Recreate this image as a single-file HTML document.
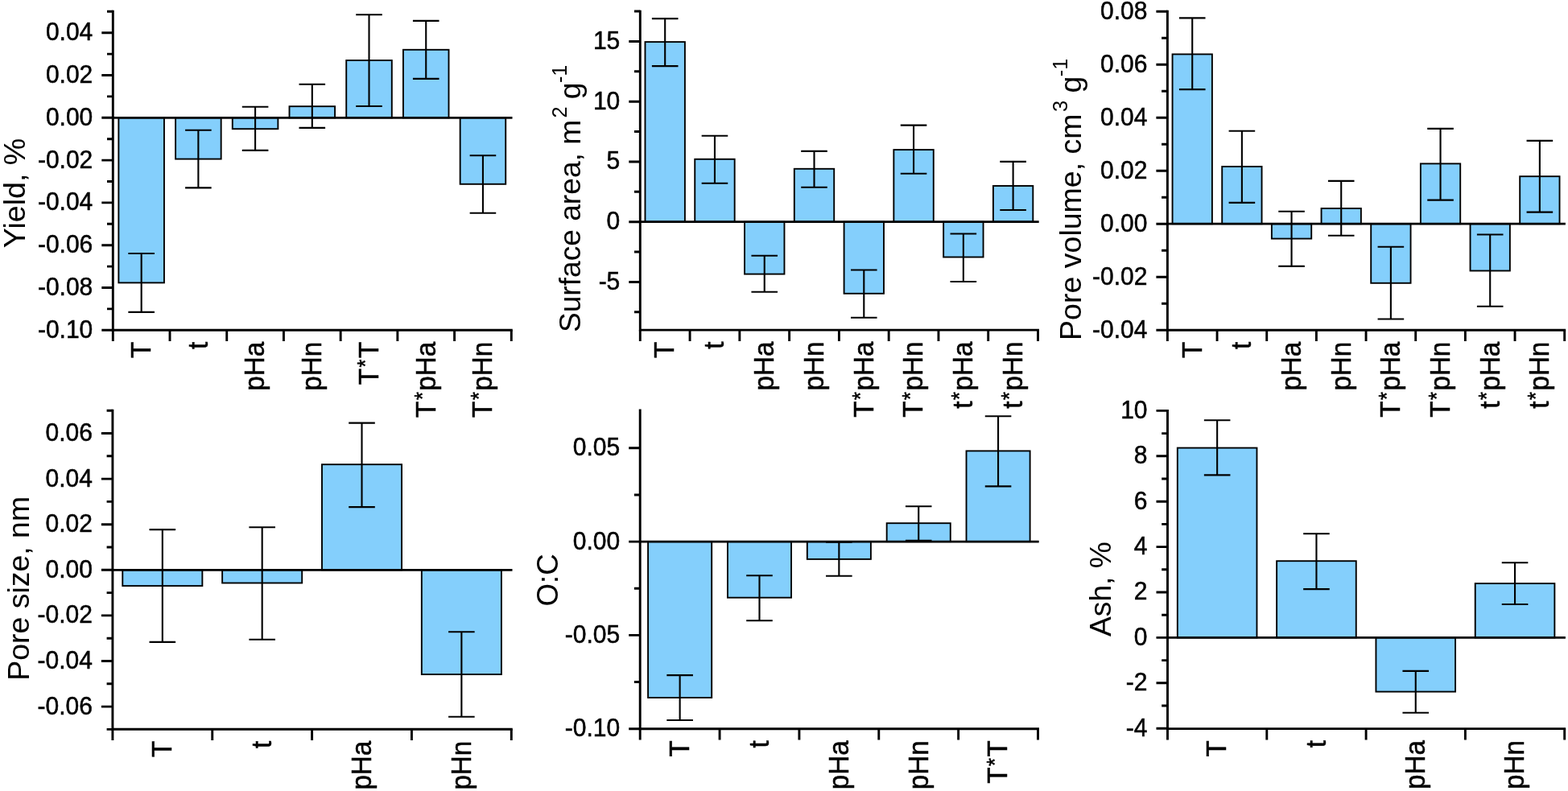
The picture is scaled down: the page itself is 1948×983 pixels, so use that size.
<!DOCTYPE html>
<html><head><meta charset="utf-8"><title>Bar charts</title>
<style>
html,body{margin:0;padding:0;background:#fff;overflow:hidden;}
svg{display:block;}
text{font-family:'Liberation Sans', sans-serif;fill:#000;stroke:#000;stroke-width:0.5px;}
.ti{stroke-width:0.0px;}
</style></head>
<body>
<svg width="1948" height="983" viewBox="0 0 1948 983">
<rect width="1948" height="983" fill="#fff"/>
<g>
<rect x="147.37" y="146.3" width="56.57" height="205.1" fill="#84CFFC" stroke="#000" stroke-width="1.9"/>
<rect x="218.09" y="146.3" width="56.57" height="51.3" fill="#84CFFC" stroke="#000" stroke-width="1.9"/>
<rect x="288.8" y="146.3" width="56.57" height="13.9" fill="#84CFFC" stroke="#000" stroke-width="1.9"/>
<rect x="359.51" y="132.2" width="56.57" height="14.1" fill="#84CFFC" stroke="#000" stroke-width="1.9"/>
<rect x="430.23" y="75" width="56.57" height="71.3" fill="#84CFFC" stroke="#000" stroke-width="1.9"/>
<rect x="500.94" y="61.8" width="56.57" height="84.5" fill="#84CFFC" stroke="#000" stroke-width="1.9"/>
<rect x="571.66" y="146.3" width="56.57" height="82.5" fill="#84CFFC" stroke="#000" stroke-width="1.9"/>
<path d="M175.66 315V387.85M159.36 315H191.96M159.36 387.85H191.96" stroke="#000" stroke-width="2.1" fill="none"/>
<path d="M246.37 161.7V233.4M230.07 161.7H262.67M230.07 233.4H262.67" stroke="#000" stroke-width="2.1" fill="none"/>
<path d="M317.09 132.7V186.9M300.79 132.7H333.39M300.79 186.9H333.39" stroke="#000" stroke-width="2.1" fill="none"/>
<path d="M387.8 104.8V158.9M371.5 104.8H404.1M371.5 158.9H404.1" stroke="#000" stroke-width="2.1" fill="none"/>
<path d="M458.51 18.3V132M442.21 18.3H474.81M442.21 132H474.81" stroke="#000" stroke-width="2.1" fill="none"/>
<path d="M529.23 25.9V97.9M512.93 25.9H545.53M512.93 97.9H545.53" stroke="#000" stroke-width="2.1" fill="none"/>
<path d="M599.94 193.2V264.8M583.64 193.2H616.24M583.64 264.8H616.24" stroke="#000" stroke-width="2.1" fill="none"/>
<line x1="140.3" y1="146.3" x2="636.5" y2="146.3" stroke="#000" stroke-width="2.8"/>
<path d="M140.3 14.3V410.3M140.3 410.3H635.3" stroke="#000" stroke-width="2.9" fill="none" stroke-linecap="square"/>
<path d="M126.3 40.7H140.3M126.3 93.5H140.3M126.3 146.3H140.3M126.3 199.1H140.3M126.3 251.9H140.3M126.3 304.7H140.3M126.3 357.5H140.3M126.3 410.3H140.3M133 14.3H140.3M133 67.1H140.3M133 119.9H140.3M133 172.7H140.3M133 225.5H140.3M133 278.3H140.3M133 331.1H140.3M133 383.9H140.3M140.3 410.3V424.1M211.01 410.3V424.1M281.73 410.3V424.1M352.44 410.3V424.1M423.16 410.3V424.1M493.87 410.3V424.1M564.59 410.3V424.1M635.3 410.3V424.1" stroke="#000" stroke-width="2.9" fill="none"/>
<text transform="translate(115.3 50.1) scale(1 1.05)" font-size="30" text-anchor="end" class="yt">0.04</text>
<text transform="translate(115.3 102.9) scale(1 1.05)" font-size="30" text-anchor="end" class="yt">0.02</text>
<text transform="translate(115.3 155.7) scale(1 1.05)" font-size="30" text-anchor="end" class="yt">0.00</text>
<text transform="translate(115.3 208.5) scale(1 1.05)" font-size="30" text-anchor="end" class="yt">-0.02</text>
<text transform="translate(115.3 261.3) scale(1 1.05)" font-size="30" text-anchor="end" class="yt">-0.04</text>
<text transform="translate(115.3 314.1) scale(1 1.05)" font-size="30" text-anchor="end" class="yt">-0.06</text>
<text transform="translate(115.3 366.9) scale(1 1.05)" font-size="30" text-anchor="end" class="yt">-0.08</text>
<text transform="translate(115.3 419.7) scale(1 1.05)" font-size="30" text-anchor="end" class="yt">-0.10</text>
<text transform="translate(186.96 424.8) rotate(-90) scale(1 1.07)" font-size="33.2" text-anchor="end" class="xt">T</text>
<text transform="translate(257.67 424.8) rotate(-90) scale(1 1.07)" font-size="33.2" text-anchor="end" class="xt">t</text>
<text transform="translate(328.39 424.8) rotate(-90) scale(1 1.07)" font-size="33.2" text-anchor="end" class="xt">pHa</text>
<text transform="translate(399.1 424.8) rotate(-90) scale(1 1.07)" font-size="33.2" text-anchor="end" class="xt">pHn</text>
<text transform="translate(469.81 424.8) rotate(-90) scale(1 1.07)" font-size="33.2" text-anchor="end" class="xt">T<tspan font-size="25.56" dx="1.49" dy="-6.4">*</tspan><tspan dx="1.49" dy="6.4">T</tspan></text>
<text transform="translate(540.53 424.8) rotate(-90) scale(1 1.07)" font-size="33.2" text-anchor="end" class="xt">T<tspan font-size="25.56" dx="1.49" dy="-6.4">*</tspan><tspan dx="1.49" dy="6.4">pHa</tspan></text>
<text transform="translate(611.24 424.8) rotate(-90) scale(1 1.07)" font-size="33.2" text-anchor="end" class="xt">T<tspan font-size="25.56" dx="1.49" dy="-6.4">*</tspan><tspan dx="1.49" dy="6.4">pHn</tspan></text>
<text transform="translate(30.9 308.3) rotate(-90) scale(1 1.0)" xml:space="preserve" class="ti"><tspan font-size="37.63">Yield, %</tspan></text>
</g>
<g>
<rect x="801.48" y="52.1" width="49.42" height="223.6" fill="#84CFFC" stroke="#000" stroke-width="1.9"/>
<rect x="863.25" y="197.8" width="49.42" height="77.9" fill="#84CFFC" stroke="#000" stroke-width="1.9"/>
<rect x="925.03" y="275.7" width="49.42" height="64.9" fill="#84CFFC" stroke="#000" stroke-width="1.9"/>
<rect x="986.8" y="209.8" width="49.42" height="65.9" fill="#84CFFC" stroke="#000" stroke-width="1.9"/>
<rect x="1048.58" y="275.7" width="49.42" height="89.1" fill="#84CFFC" stroke="#000" stroke-width="1.9"/>
<rect x="1110.35" y="186.1" width="49.42" height="89.6" fill="#84CFFC" stroke="#000" stroke-width="1.9"/>
<rect x="1172.13" y="275.7" width="49.42" height="43.8" fill="#84CFFC" stroke="#000" stroke-width="1.9"/>
<rect x="1233.9" y="231" width="49.42" height="44.7" fill="#84CFFC" stroke="#000" stroke-width="1.9"/>
<path d="M826.19 23.1V82.1M809.89 23.1H842.49M809.89 82.1H842.49" stroke="#000" stroke-width="2.1" fill="none"/>
<path d="M887.96 168.8V227.8M871.66 168.8H904.26M871.66 227.8H904.26" stroke="#000" stroke-width="2.1" fill="none"/>
<path d="M949.74 317.7V362.7M933.44 317.7H966.04M933.44 362.7H966.04" stroke="#000" stroke-width="2.1" fill="none"/>
<path d="M1011.51 187.9V232.8M995.21 187.9H1027.81M995.21 232.8H1027.81" stroke="#000" stroke-width="2.1" fill="none"/>
<path d="M1073.29 335.5V394.8M1056.99 335.5H1089.59M1056.99 394.8H1089.59" stroke="#000" stroke-width="2.1" fill="none"/>
<path d="M1135.06 155.6V215.8M1118.76 155.6H1151.36M1118.76 215.8H1151.36" stroke="#000" stroke-width="2.1" fill="none"/>
<path d="M1196.84 290.5V350M1180.54 290.5H1213.14M1180.54 350H1213.14" stroke="#000" stroke-width="2.1" fill="none"/>
<path d="M1258.61 200.9V261M1242.31 200.9H1274.91M1242.31 261H1274.91" stroke="#000" stroke-width="2.1" fill="none"/>
<line x1="795.3" y1="275.7" x2="1290.7" y2="275.7" stroke="#000" stroke-width="2.8"/>
<path d="M795.3 14.1V410.1M795.3 410.1H1289.5" stroke="#000" stroke-width="2.9" fill="none" stroke-linecap="square"/>
<path d="M781.3 51.45H795.3M781.3 126.2H795.3M781.3 200.95H795.3M781.3 275.7H795.3M781.3 350.45H795.3M788 14.07H795.3M788 88.82H795.3M788 163.57H795.3M788 238.32H795.3M788 313.07H795.3M788 387.82H795.3M795.3 410.1V423.9M857.07 410.1V423.9M918.85 410.1V423.9M980.62 410.1V423.9M1042.4 410.1V423.9M1104.17 410.1V423.9M1165.95 410.1V423.9M1227.72 410.1V423.9M1289.5 410.1V423.9" stroke="#000" stroke-width="2.9" fill="none"/>
<text transform="translate(770.3 60.85) scale(1 1.05)" font-size="30" text-anchor="end" class="yt">15</text>
<text transform="translate(770.3 135.6) scale(1 1.05)" font-size="30" text-anchor="end" class="yt">10</text>
<text transform="translate(770.3 210.35) scale(1 1.05)" font-size="30" text-anchor="end" class="yt">5</text>
<text transform="translate(770.3 285.1) scale(1 1.05)" font-size="30" text-anchor="end" class="yt">0</text>
<text transform="translate(770.3 359.85) scale(1 1.05)" font-size="30" text-anchor="end" class="yt">-5</text>
<text transform="translate(837.49 424.6) rotate(-90) scale(1 1.07)" font-size="33.2" text-anchor="end" class="xt">T</text>
<text transform="translate(899.26 424.6) rotate(-90) scale(1 1.07)" font-size="33.2" text-anchor="end" class="xt">t</text>
<text transform="translate(961.04 424.6) rotate(-90) scale(1 1.07)" font-size="33.2" text-anchor="end" class="xt">pHa</text>
<text transform="translate(1022.81 424.6) rotate(-90) scale(1 1.07)" font-size="33.2" text-anchor="end" class="xt">pHn</text>
<text transform="translate(1084.59 424.6) rotate(-90) scale(1 1.07)" font-size="33.2" text-anchor="end" class="xt">T<tspan font-size="25.56" dx="1.49" dy="-6.4">*</tspan><tspan dx="1.49" dy="6.4">pHa</tspan></text>
<text transform="translate(1146.36 424.6) rotate(-90) scale(1 1.07)" font-size="33.2" text-anchor="end" class="xt">T<tspan font-size="25.56" dx="1.49" dy="-6.4">*</tspan><tspan dx="1.49" dy="6.4">pHn</tspan></text>
<text transform="translate(1208.14 424.6) rotate(-90) scale(1 1.07)" font-size="33.2" text-anchor="end" class="xt">t<tspan font-size="25.56" dx="1.49" dy="-6.4">*</tspan><tspan dx="1.49" dy="6.4">pHa</tspan></text>
<text transform="translate(1269.91 424.6) rotate(-90) scale(1 1.07)" font-size="33.2" text-anchor="end" class="xt">t<tspan font-size="25.56" dx="1.49" dy="-6.4">*</tspan><tspan dx="1.49" dy="6.4">pHn</tspan></text>
<text transform="translate(720.8 413.1) rotate(-90) scale(1 1.0)" xml:space="preserve" class="ti"><tspan font-size="37.15">Surface area, m</tspan><tspan font-size="25.10" dx="2.4" dy="-16.4">2</tspan><tspan font-size="37.15" dx="-1.0" dy="16.4"> g</tspan><tspan font-size="25.10" dx="-0.6" dy="-16.4">-1</tspan></text>
</g>
<g>
<rect x="1456.57" y="67.4" width="49.33" height="210.8" fill="#84CFFC" stroke="#000" stroke-width="1.9"/>
<rect x="1518.23" y="207" width="49.33" height="71.2" fill="#84CFFC" stroke="#000" stroke-width="1.9"/>
<rect x="1579.89" y="278.2" width="49.33" height="18.4" fill="#84CFFC" stroke="#000" stroke-width="1.9"/>
<rect x="1641.55" y="259" width="49.33" height="19.2" fill="#84CFFC" stroke="#000" stroke-width="1.9"/>
<rect x="1703.22" y="278.2" width="49.33" height="73.6" fill="#84CFFC" stroke="#000" stroke-width="1.9"/>
<rect x="1764.88" y="203.4" width="49.33" height="74.8" fill="#84CFFC" stroke="#000" stroke-width="1.9"/>
<rect x="1826.54" y="278.2" width="49.33" height="58.3" fill="#84CFFC" stroke="#000" stroke-width="1.9"/>
<rect x="1888.2" y="219.2" width="49.33" height="59" fill="#84CFFC" stroke="#000" stroke-width="1.9"/>
<path d="M1481.23 22.4V111.1M1464.93 22.4H1497.53M1464.93 111.1H1497.53" stroke="#000" stroke-width="2.1" fill="none"/>
<path d="M1542.89 162.7V251.9M1526.59 162.7H1559.19M1526.59 251.9H1559.19" stroke="#000" stroke-width="2.1" fill="none"/>
<path d="M1604.56 262.8V330.9M1588.26 262.8H1620.86M1588.26 330.9H1620.86" stroke="#000" stroke-width="2.1" fill="none"/>
<path d="M1666.22 224.9V292.8M1649.92 224.9H1682.52M1649.92 292.8H1682.52" stroke="#000" stroke-width="2.1" fill="none"/>
<path d="M1727.88 306.8V396.5M1711.58 306.8H1744.18M1711.58 396.5H1744.18" stroke="#000" stroke-width="2.1" fill="none"/>
<path d="M1789.54 159.9V248.6M1773.24 159.9H1805.84M1773.24 248.6H1805.84" stroke="#000" stroke-width="2.1" fill="none"/>
<path d="M1851.21 291.5V380.8M1834.91 291.5H1867.51M1834.91 380.8H1867.51" stroke="#000" stroke-width="2.1" fill="none"/>
<path d="M1912.87 174.9V263.6M1896.57 174.9H1929.17M1896.57 263.6H1929.17" stroke="#000" stroke-width="2.1" fill="none"/>
<line x1="1450.4" y1="278.2" x2="1944.9" y2="278.2" stroke="#000" stroke-width="2.8"/>
<path d="M1450.4 14.2V410.2M1450.4 410.2H1943.7" stroke="#000" stroke-width="2.9" fill="none" stroke-linecap="square"/>
<path d="M1436.4 14.2H1450.4M1436.4 80.2H1450.4M1436.4 146.2H1450.4M1436.4 212.2H1450.4M1436.4 278.2H1450.4M1436.4 344.2H1450.4M1436.4 410.2H1450.4M1443.1 47.2H1450.4M1443.1 113.2H1450.4M1443.1 179.2H1450.4M1443.1 245.2H1450.4M1443.1 311.2H1450.4M1443.1 377.2H1450.4M1450.4 410.2V424M1512.06 410.2V424M1573.73 410.2V424M1635.39 410.2V424M1697.05 410.2V424M1758.71 410.2V424M1820.38 410.2V424M1882.04 410.2V424M1943.7 410.2V424" stroke="#000" stroke-width="2.9" fill="none"/>
<text transform="translate(1425.4 23.6) scale(1 1.05)" font-size="30" text-anchor="end" class="yt">0.08</text>
<text transform="translate(1425.4 89.6) scale(1 1.05)" font-size="30" text-anchor="end" class="yt">0.06</text>
<text transform="translate(1425.4 155.6) scale(1 1.05)" font-size="30" text-anchor="end" class="yt">0.04</text>
<text transform="translate(1425.4 221.6) scale(1 1.05)" font-size="30" text-anchor="end" class="yt">0.02</text>
<text transform="translate(1425.4 287.6) scale(1 1.05)" font-size="30" text-anchor="end" class="yt">0.00</text>
<text transform="translate(1425.4 353.6) scale(1 1.05)" font-size="30" text-anchor="end" class="yt">-0.02</text>
<text transform="translate(1425.4 419.6) scale(1 1.05)" font-size="30" text-anchor="end" class="yt">-0.04</text>
<text transform="translate(1492.53 424.7) rotate(-90) scale(1 1.07)" font-size="33.2" text-anchor="end" class="xt">T</text>
<text transform="translate(1554.19 424.7) rotate(-90) scale(1 1.07)" font-size="33.2" text-anchor="end" class="xt">t</text>
<text transform="translate(1615.86 424.7) rotate(-90) scale(1 1.07)" font-size="33.2" text-anchor="end" class="xt">pHa</text>
<text transform="translate(1677.52 424.7) rotate(-90) scale(1 1.07)" font-size="33.2" text-anchor="end" class="xt">pHn</text>
<text transform="translate(1739.18 424.7) rotate(-90) scale(1 1.07)" font-size="33.2" text-anchor="end" class="xt">T<tspan font-size="25.56" dx="1.49" dy="-6.4">*</tspan><tspan dx="1.49" dy="6.4">pHa</tspan></text>
<text transform="translate(1800.84 424.7) rotate(-90) scale(1 1.07)" font-size="33.2" text-anchor="end" class="xt">T<tspan font-size="25.56" dx="1.49" dy="-6.4">*</tspan><tspan dx="1.49" dy="6.4">pHn</tspan></text>
<text transform="translate(1862.51 424.7) rotate(-90) scale(1 1.07)" font-size="33.2" text-anchor="end" class="xt">t<tspan font-size="25.56" dx="1.49" dy="-6.4">*</tspan><tspan dx="1.49" dy="6.4">pHa</tspan></text>
<text transform="translate(1924.17 424.7) rotate(-90) scale(1 1.07)" font-size="33.2" text-anchor="end" class="xt">t<tspan font-size="25.56" dx="1.49" dy="-6.4">*</tspan><tspan dx="1.49" dy="6.4">pHn</tspan></text>
<text transform="translate(1342.8 422.9) rotate(-90) scale(1 1.0)" xml:space="preserve" class="ti"><tspan font-size="37.52">Pore volume, cm</tspan><tspan font-size="25.35" dx="2.4" dy="-16.4">3</tspan><tspan font-size="37.52" dx="-1.0" dy="16.4"> g</tspan><tspan font-size="25.35" dx="-0.6" dy="-16.4">-1</tspan></text>
</g>
<g>
<rect x="152.28" y="708.3" width="99.08" height="19.8" fill="#84CFFC" stroke="#000" stroke-width="1.9"/>
<rect x="276.13" y="708.3" width="99.08" height="16.2" fill="#84CFFC" stroke="#000" stroke-width="1.9"/>
<rect x="399.98" y="577.2" width="99.08" height="131.1" fill="#84CFFC" stroke="#000" stroke-width="1.9"/>
<rect x="523.84" y="708.3" width="99.08" height="129.8" fill="#84CFFC" stroke="#000" stroke-width="1.9"/>
<path d="M201.82 658.1V797.9M185.52 658.1H218.12M185.52 797.9H218.12" stroke="#000" stroke-width="2.1" fill="none"/>
<path d="M325.67 655.3V794.8M309.37 655.3H341.97M309.37 794.8H341.97" stroke="#000" stroke-width="2.1" fill="none"/>
<path d="M449.52 525.6V630.1M433.22 525.6H465.82M433.22 630.1H465.82" stroke="#000" stroke-width="2.1" fill="none"/>
<path d="M573.38 785.2V890.7M557.08 785.2H589.67M557.08 890.7H589.67" stroke="#000" stroke-width="2.1" fill="none"/>
<line x1="139.9" y1="708.3" x2="636.5" y2="708.3" stroke="#000" stroke-width="2.8"/>
<path d="M139.9 510.2V906.2M139.9 906.2H635.3" stroke="#000" stroke-width="2.9" fill="none" stroke-linecap="square"/>
<path d="M125.9 538.5H139.9M125.9 595.1H139.9M125.9 651.7H139.9M125.9 708.3H139.9M125.9 764.9H139.9M125.9 821.5H139.9M125.9 878.1H139.9M132.6 510.2H139.9M132.6 566.8H139.9M132.6 623.4H139.9M132.6 680H139.9M132.6 736.6H139.9M132.6 793.2H139.9M132.6 849.8H139.9M132.6 906.4H139.9M139.9 906.2V920M263.75 906.2V920M387.6 906.2V920M511.45 906.2V920M635.3 906.2V920" stroke="#000" stroke-width="2.9" fill="none"/>
<text transform="translate(114.9 547.9) scale(1 1.05)" font-size="30" text-anchor="end" class="yt">0.06</text>
<text transform="translate(114.9 604.5) scale(1 1.05)" font-size="30" text-anchor="end" class="yt">0.04</text>
<text transform="translate(114.9 661.1) scale(1 1.05)" font-size="30" text-anchor="end" class="yt">0.02</text>
<text transform="translate(114.9 717.7) scale(1 1.05)" font-size="30" text-anchor="end" class="yt">0.00</text>
<text transform="translate(114.9 774.3) scale(1 1.05)" font-size="30" text-anchor="end" class="yt">-0.02</text>
<text transform="translate(114.9 830.9) scale(1 1.05)" font-size="30" text-anchor="end" class="yt">-0.04</text>
<text transform="translate(114.9 887.5) scale(1 1.05)" font-size="30" text-anchor="end" class="yt">-0.06</text>
<text transform="translate(213.12 920.7) rotate(-90) scale(1 1.07)" font-size="33.2" text-anchor="end" class="xt">T</text>
<text transform="translate(336.97 920.7) rotate(-90) scale(1 1.07)" font-size="33.2" text-anchor="end" class="xt">t</text>
<text transform="translate(460.82 920.7) rotate(-90) scale(1 1.07)" font-size="33.2" text-anchor="end" class="xt">pHa</text>
<text transform="translate(584.67 920.7) rotate(-90) scale(1 1.07)" font-size="33.2" text-anchor="end" class="xt">pHn</text>
<text transform="translate(35.7 845.7) rotate(-90) scale(1 1.0)" xml:space="preserve" class="ti"><tspan font-size="37.44">Pore size, nm</tspan></text>
</g>
<g>
<rect x="805.09" y="673.1" width="79.09" height="193.9" fill="#84CFFC" stroke="#000" stroke-width="1.9"/>
<rect x="903.95" y="673.1" width="79.09" height="69.6" fill="#84CFFC" stroke="#000" stroke-width="1.9"/>
<rect x="1002.81" y="673.1" width="79.09" height="21.8" fill="#84CFFC" stroke="#000" stroke-width="1.9"/>
<rect x="1101.67" y="650.2" width="79.09" height="22.9" fill="#84CFFC" stroke="#000" stroke-width="1.9"/>
<rect x="1200.53" y="560.4" width="79.09" height="112.7" fill="#84CFFC" stroke="#000" stroke-width="1.9"/>
<path d="M844.63 839.1V895M828.33 839.1H860.93M828.33 895H860.93" stroke="#000" stroke-width="2.1" fill="none"/>
<path d="M943.49 715.3V771.2M927.19 715.3H959.79M927.19 771.2H959.79" stroke="#000" stroke-width="2.1" fill="none"/>
<path d="M1042.35 673.6V715.8M1026.05 673.6H1058.65M1026.05 715.8H1058.65" stroke="#000" stroke-width="2.1" fill="none"/>
<path d="M1141.21 629.3V671.8M1124.91 629.3H1157.51M1124.91 671.8H1157.51" stroke="#000" stroke-width="2.1" fill="none"/>
<path d="M1240.07 517.2V604.4M1223.77 517.2H1256.37M1223.77 604.4H1256.37" stroke="#000" stroke-width="2.1" fill="none"/>
<line x1="795.2" y1="673.1" x2="1290.7" y2="673.1" stroke="#000" stroke-width="2.8"/>
<path d="M795.2 510V905.8M795.2 905.8H1289.5" stroke="#000" stroke-width="2.9" fill="none" stroke-linecap="square"/>
<path d="M781.2 556.8H795.2M781.2 673.1H795.2M781.2 789.4H795.2M781.2 905.7H795.2M787.9 614.95H795.2M787.9 731.25H795.2M787.9 847.55H795.2M795.2 905.8V919.6M894.06 905.8V919.6M992.92 905.8V919.6M1091.78 905.8V919.6M1190.64 905.8V919.6M1289.5 905.8V919.6" stroke="#000" stroke-width="2.9" fill="none"/>
<text transform="translate(770.2 566.2) scale(1 1.05)" font-size="30" text-anchor="end" class="yt">0.05</text>
<text transform="translate(770.2 682.5) scale(1 1.05)" font-size="30" text-anchor="end" class="yt">0.00</text>
<text transform="translate(770.2 798.8) scale(1 1.05)" font-size="30" text-anchor="end" class="yt">-0.05</text>
<text transform="translate(770.2 915.1) scale(1 1.05)" font-size="30" text-anchor="end" class="yt">-0.10</text>
<text transform="translate(855.93 920.3) rotate(-90) scale(1 1.07)" font-size="33.2" text-anchor="end" class="xt">T</text>
<text transform="translate(954.79 920.3) rotate(-90) scale(1 1.07)" font-size="33.2" text-anchor="end" class="xt">t</text>
<text transform="translate(1053.65 920.3) rotate(-90) scale(1 1.07)" font-size="33.2" text-anchor="end" class="xt">pHa</text>
<text transform="translate(1152.51 920.3) rotate(-90) scale(1 1.07)" font-size="33.2" text-anchor="end" class="xt">pHn</text>
<text transform="translate(1251.37 920.3) rotate(-90) scale(1 1.07)" font-size="33.2" text-anchor="end" class="xt">T<tspan font-size="25.56" dx="1.49" dy="-6.4">*</tspan><tspan dx="1.49" dy="6.4">T</tspan></text>
<text transform="translate(692.6 753.6) rotate(-90) scale(1 1.0)" xml:space="preserve" class="ti"><tspan font-size="36.78">O:C</tspan></text>
</g>
<g>
<rect x="1462.83" y="556.6" width="98.64" height="235.8" fill="#84CFFC" stroke="#000" stroke-width="1.9"/>
<rect x="1586.13" y="697.2" width="98.64" height="95.2" fill="#84CFFC" stroke="#000" stroke-width="1.9"/>
<rect x="1709.43" y="792.4" width="98.64" height="67.2" fill="#84CFFC" stroke="#000" stroke-width="1.9"/>
<rect x="1832.73" y="725.1" width="98.64" height="67.3" fill="#84CFFC" stroke="#000" stroke-width="1.9"/>
<path d="M1512.15 522.3V590.4M1495.85 522.3H1528.45M1495.85 590.4H1528.45" stroke="#000" stroke-width="2.1" fill="none"/>
<path d="M1635.45 663.2V732.1M1619.15 663.2H1651.75M1619.15 732.1H1651.75" stroke="#000" stroke-width="2.1" fill="none"/>
<path d="M1758.75 833.9V885.8M1742.45 833.9H1775.05M1742.45 885.8H1775.05" stroke="#000" stroke-width="2.1" fill="none"/>
<path d="M1882.05 699.2V751M1865.75 699.2H1898.35M1865.75 751H1898.35" stroke="#000" stroke-width="2.1" fill="none"/>
<line x1="1450.5" y1="792.4" x2="1944.9" y2="792.4" stroke="#000" stroke-width="2.8"/>
<path d="M1450.5 510.4V905.6M1450.5 905.6H1943.7" stroke="#000" stroke-width="2.9" fill="none" stroke-linecap="square"/>
<path d="M1436.5 510.4H1450.5M1436.5 566.8H1450.5M1436.5 623.2H1450.5M1436.5 679.6H1450.5M1436.5 736H1450.5M1436.5 792.4H1450.5M1436.5 848.8H1450.5M1436.5 905.2H1450.5M1443.2 538.6H1450.5M1443.2 595H1450.5M1443.2 651.4H1450.5M1443.2 707.8H1450.5M1443.2 764.2H1450.5M1443.2 820.6H1450.5M1443.2 877H1450.5M1450.5 905.6V919.4M1573.8 905.6V919.4M1697.1 905.6V919.4M1820.4 905.6V919.4M1943.7 905.6V919.4" stroke="#000" stroke-width="2.9" fill="none"/>
<text transform="translate(1425.5 519.8) scale(1 1.05)" font-size="30" text-anchor="end" class="yt">10</text>
<text transform="translate(1425.5 576.2) scale(1 1.05)" font-size="30" text-anchor="end" class="yt">8</text>
<text transform="translate(1425.5 632.6) scale(1 1.05)" font-size="30" text-anchor="end" class="yt">6</text>
<text transform="translate(1425.5 689) scale(1 1.05)" font-size="30" text-anchor="end" class="yt">4</text>
<text transform="translate(1425.5 745.4) scale(1 1.05)" font-size="30" text-anchor="end" class="yt">2</text>
<text transform="translate(1425.5 801.8) scale(1 1.05)" font-size="30" text-anchor="end" class="yt">0</text>
<text transform="translate(1425.5 858.2) scale(1 1.05)" font-size="30" text-anchor="end" class="yt">-2</text>
<text transform="translate(1425.5 914.6) scale(1 1.05)" font-size="30" text-anchor="end" class="yt">-4</text>
<text transform="translate(1523.45 920.1) rotate(-90) scale(1 1.07)" font-size="33.2" text-anchor="end" class="xt">T</text>
<text transform="translate(1646.75 920.1) rotate(-90) scale(1 1.07)" font-size="33.2" text-anchor="end" class="xt">t</text>
<text transform="translate(1770.05 920.1) rotate(-90) scale(1 1.07)" font-size="33.2" text-anchor="end" class="xt">pHa</text>
<text transform="translate(1893.35 920.1) rotate(-90) scale(1 1.07)" font-size="33.2" text-anchor="end" class="xt">pHn</text>
<text transform="translate(1379.6 790.9) rotate(-90) scale(1 1.0)" xml:space="preserve" class="ti"><tspan font-size="37.15">Ash, %</tspan></text>
</g>
</svg>
</body></html>
